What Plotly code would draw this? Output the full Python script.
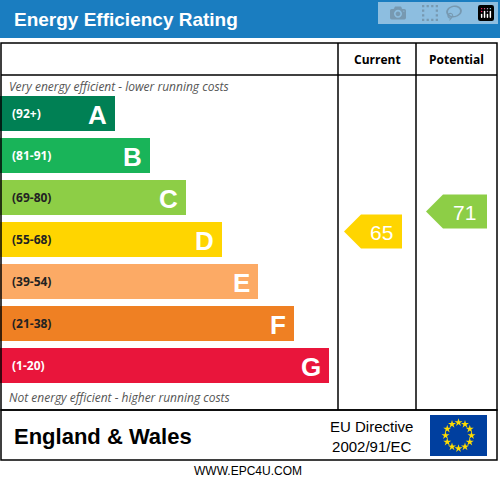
import plotly.graph_objects as go
import math

bands = ["A", "B", "C", "D", "E", "F", "G"]
ranges = ["(92+)", "(81-91)", "(69-80)", "(55-68)", "(39-54)", "(21-38)", "(1-20)"]
band_len = [115, 150, 186, 222, 258, 294, 329]
colors = ["#008054", "#19b459", "#8dce46", "#ffd500", "#fcaa65", "#ef8023", "#e9153b"]
current = 65
potential = 71

band_top = [96 + 42 * i for i in range(7)]
band_mid = [t + 17.5 for t in band_top]

fig = go.Figure()
fig.add_trace(go.Bar(y=band_mid, x=band_len, base=0, orientation="h", width=35,
                     marker=dict(color=colors, line=dict(width=0)), hoverinfo="skip"))

shapes = []
ann = []
shapes.append(dict(type="rect", x0=0, x1=500, y0=0, y1=38, fillcolor="#1a7dc0", line_width=0, layer="below"))
ann.append(dict(x=12, y=19, text="<b>Energy Efficiency Rating</b>", xanchor="left", showarrow=False,
                font=dict(size=19, color="white", family="Liberation Sans")))
line = dict(color="black", width=1.5)
shapes.append(dict(type="rect", x0=1, x1=497, y0=43, y1=410, line=line))
shapes.append(dict(type="rect", x0=1, x1=497, y0=410, y1=460, line=line))
shapes.append(dict(type="line", x0=338, x1=338, y0=43, y1=410, line=line))
shapes.append(dict(type="line", x0=416, x1=416, y0=43, y1=410, line=line))
shapes.append(dict(type="line", x0=1, x1=497, y0=75, y1=75, line=line))
ann.append(dict(x=377, y=59, text="<b>Current</b>", showarrow=False, font=dict(size=12, color="black")))
ann.append(dict(x=456, y=59, text="<b>Potential</b>", showarrow=False, font=dict(size=12, color="black")))
ann.append(dict(x=7, y=86, text="<i>Very energy efficient - lower running costs</i>", xanchor="left",
                showarrow=False, font=dict(size=12, color="#555")))
ann.append(dict(x=7, y=397, text="<i>Not energy efficient - higher running costs</i>", xanchor="left",
                showarrow=False, font=dict(size=12, color="#555")))
for i in range(7):
    ann.append(dict(x=10, y=band_mid[i], text="<b>" + ranges[i] + "</b>", xanchor="left", showarrow=False,
                    font=dict(size=12, color="white" if i in (0, 1, 6) else "#222")))
    ann.append(dict(x=band_len[i] - 6, y=band_mid[i] + 1, text="<b>" + bands[i] + "</b>", xanchor="right",
                    showarrow=False, font=dict(size=26, color="white", family="Liberation Sans")))

def band_index(v):
    lims = [92, 81, 69, 55, 39, 21, 1]
    for i, l in enumerate(lims):
        if v >= l:
            return i
    return 6

def arrow(x0, x1, yc, h, color, val):
    path = f"M{x0},{yc} L{x0+17},{yc-h/2} L{x1},{yc-h/2} L{x1},{yc+h/2} L{x0+17},{yc+h/2} Z"
    shapes.append(dict(type="path", path=path, fillcolor=color, line_width=0))
    ann.append(dict(x=(x0 + x1) / 2 + 8, y=yc + 1, text=str(val), showarrow=False,
                    font=dict(size=21, color="white", family="Liberation Sans")))

ci = band_index(current); pi = band_index(potential)
arrow(344, 402, band_mid[ci] - 8, 34, colors[ci], current)
arrow(426, 487, band_mid[pi] + 14, 34, colors[pi], potential)

ann.append(dict(x=12, y=436, text="<b>England & Wales</b>", xanchor="left", showarrow=False,
                font=dict(size=22, color="black", family="Liberation Sans")))
ann.append(dict(x=371, y=436, text="EU Directive<br>2002/91/EC", showarrow=False,
                font=dict(size=15, color="black", family="Liberation Sans")))
ann.append(dict(x=248, y=471, text="WWW.EPC4U.COM", showarrow=False,
                font=dict(size=12, color="black", family="Liberation Sans")))
shapes.append(dict(type="rect", x0=430, x1=487, y0=415, y1=456, fillcolor="#003f9f", line_width=0, layer="below"))
sx = [458.5 + 13 * math.cos(2 * math.pi * k / 12) for k in range(12)]
sy = [435.5 + 13 * math.sin(2 * math.pi * k / 12) for k in range(12)]
fig.add_trace(go.Scatter(x=sx, y=sy, mode="markers", hoverinfo="skip",
                         marker=dict(symbol="star", size=6, color="#ffdd00")))

fig.update_layout(width=500, height=485, margin=dict(l=0, r=0, t=0, b=0), showlegend=False,
                  plot_bgcolor="rgba(0,0,0,0)", paper_bgcolor="white", shapes=shapes, annotations=ann,
                  xaxis=dict(range=[0, 500], visible=False, fixedrange=True),
                  yaxis=dict(range=[485, 0], visible=False, fixedrange=True), bargap=0)
fig.write_html("out.html", post_script="document.body.style.margin='0';")
